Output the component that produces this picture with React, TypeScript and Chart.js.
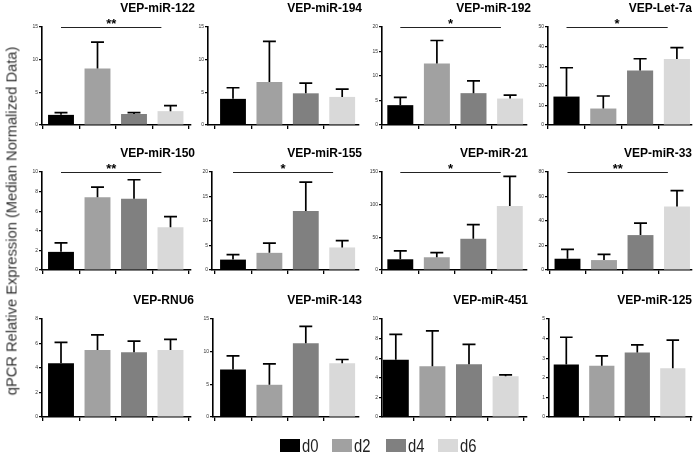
import React, { useEffect, useRef } from 'react';
import { Chart, registerables } from 'chart.js';

Chart.register(...registerables);

// ---------- data ----------
const GROUPS = ['d0', 'd2', 'd4', 'd6'];
const GROUP_COLORS = ['#000000', '#a1a1a1', '#808080', '#d9d9d9'];
const Y_LABEL = 'qPCR Relative Expression (Median Normalized Data)';

const TITLES = [
  'VEP-miR-122', 'VEP-miR-194', 'VEP-miR-192', 'VEP-Let-7a',
  'VEP-miR-150', 'VEP-miR-155', 'VEP-miR-21', 'VEP-miR-33',
  'VEP-RNU6', 'VEP-miR-143', 'VEP-miR-451', 'VEP-miR-125',
];

const mir122 = [1.55, 8.65, 1.68, 2.12];
const mir122Err = [0.35, 4.05, 0.2, 0.85];
const mir194 = [4.0, 6.6, 4.85, 4.3];
const mir194Err = [1.7, 6.2, 1.55, 1.2];
const mir192 = [4.05, 12.55, 6.5, 5.4];
const mir192Err = [1.6, 4.7, 2.5, 0.7];
const let7a = [14.5, 8.4, 27.8, 33.7];
const let7aErr = [14.7, 6.4, 6.0, 5.8];
const mir150 = [1.85, 7.43, 7.26, 4.35];
const mir150Err = [0.92, 1.03, 1.95, 1.1];
const mir155 = [2.12, 3.5, 12.05, 4.6];
const mir155Err = [1.03, 2.0, 5.9, 1.4];
const mir21 = [16.4, 19.5, 47.8, 98.1];
const mir21Err = [12.9, 7.2, 21.5, 45.2];
const mir33 = [9.2, 8.1, 28.5, 51.8];
const mir33Err = [7.6, 4.6, 9.7, 13.0];
const rnu6 = [4.39, 5.47, 5.28, 5.47];
const rnu6Err = [1.71, 1.23, 0.92, 0.87];
const mir143 = [7.27, 4.93, 11.29, 8.24];
const mir143Err = [2.08, 3.2, 2.59, 0.56];
const mir451 = [5.83, 5.19, 5.39, 4.17];
const mir451Err = [2.61, 3.59, 2.03, 0.13];
const mir125 = [2.68, 2.61, 3.29, 2.49];
const mir125Err = [1.39, 0.51, 0.39, 1.43];

const MEANS = [mir122, mir194, mir192, let7a, mir150, mir155, mir21, mir33, rnu6, mir143, mir451, mir125];
const ERRORS = [mir122Err, mir194Err, mir192Err, let7aErr, mir150Err, mir155Err, mir21Err, mir33Err, rnu6Err, mir143Err, mir451Err, mir125Err];

const Y_MAX = [15, 15, 20, 50, 10, 20, 150, 80, 8, 15, 10, 5];
const Y_STEP = [5, 5, 5, 10, 2, 5, 50, 20, 2, 5, 2, 1];
const SIGNIF = ['**', '', '*', '*', '**', '*', '*', '**', '', '', '', ''];

// ---------- layout (positions, not data) ----------
// ax: y-axis x, ae: x-axis end, c0: first bar centre, sp: bar spacing, tdx: title offset from axis end
const LAYOUT = [
  { ax: 42, ae: 191, c0: 61, sp: 36.5, tdx: 4 },
  { ax: 208, ae: 359, c0: 233, sp: 36.4, tdx: 3 },
  { ax: 382, ae: 527, c0: 400.3, sp: 36.6, tdx: 4 },
  { ax: 548, ae: 692, c0: 566.5, sp: 36.8, tdx: 0 },
  { ax: 42, ae: 191, c0: 61, sp: 36.5, tdx: 4 },
  { ax: 212, ae: 359, c0: 233, sp: 36.4, tdx: 3 },
  { ax: 382, ae: 527, c0: 400.3, sp: 36.5, tdx: 1 },
  { ax: 548, ae: 692, c0: 567.5, sp: 36.5, tdx: 0 },
  { ax: 42, ae: 191, c0: 61, sp: 36.5, tdx: 3 },
  { ax: 213, ae: 359, c0: 233, sp: 36.4, tdx: 3 },
  { ax: 382, ae: 527, c0: 395.8, sp: 36.6, tdx: 1 },
  { ax: 549, ae: 692, c0: 566.3, sp: 35.5, tdx: 0 },
];
const ROW_TOP = [27, 172, 319];
const ROW_BOTTOM = [125, 270, 417];
const YW = 24;
const PAD_R = 7;
const TOPSPACE = 27;
const XH = 8;
const FONT = '"Liberation Sans", Arial, Helvetica, sans-serif';

function Panel({ idx }: { idx: number }) {
  const ref = useRef<HTMLCanvasElement | null>(null);
  const L = LAYOUT[idx];
  const row = Math.floor(idx / 4);
  const left = L.ax - YW;
  const width = L.ae - L.ax + YW + PAD_R;
  const top = ROW_TOP[row] - TOPSPACE;
  const height = ROW_BOTTOM[row] - ROW_TOP[row] + TOPSPACE + XH;

  useEffect(() => {
    const means = MEANS[idx];
    const errs = ERRORS[idx];
    const decor = {
      id: 'decor' + idx,
      afterDatasetsDraw(chart: any) {
        const { ctx, chartArea } = chart;
        const x = chart.scales.x;
        const y = chart.scales.y;
        const meta = chart.getDatasetMeta(0);
        ctx.save();
        ctx.strokeStyle = '#000';
        ctx.lineWidth = 1.7;
        meta.data.forEach((bar: any, j: number) => {
          const yTop = y.getPixelForValue(means[j]);
          const yErr = y.getPixelForValue(means[j] + errs[j]);
          const half = bar.width * 0.25;
          ctx.beginPath();
          ctx.moveTo(bar.x, yTop);
          ctx.lineTo(bar.x, yErr);
          ctx.moveTo(bar.x - half, yErr);
          ctx.lineTo(bar.x + half, yErr);
          ctx.stroke();
        });
        const sig = SIGNIF[idx];
        if (sig) {
          const ly = y.getPixelForValue(Y_MAX[idx]);
          const x1 = x.getPixelForValue(0.0);
          const x2 = x.getPixelForValue(2.75);
          ctx.lineWidth = 1;
          ctx.strokeStyle = '#222';
          ctx.beginPath();
          ctx.moveTo(x1, ly + 0.5);
          ctx.lineTo(x2, ly + 0.5);
          ctx.stroke();
          ctx.fillStyle = '#000';
          ctx.font = 'bold 13px ' + FONT;
          ctx.textAlign = 'center';
          ctx.textBaseline = 'alphabetic';
          ctx.fillText(sig, (x1 + x2) / 2, ly + 1);
        }
        ctx.fillStyle = '#000';
        ctx.font = 'bold 12px ' + FONT;
        ctx.textAlign = 'right';
        ctx.textBaseline = 'alphabetic';
        ctx.fillText(TITLES[idx], chartArea.right + L.tdx, chartArea.top - 15);
        ctx.restore();
      },
    };

    const chart = new Chart(ref.current as HTMLCanvasElement, {
      type: 'bar',
      data: {
        labels: GROUPS,
        datasets: [
          {
            label: TITLES[idx],
            data: means.map((v, i) => ({ x: i, y: v })) as any,
            backgroundColor: GROUP_COLORS,
            borderWidth: 0,
            barPercentage: 0.71,
            categoryPercentage: 1,
          },
        ],
      },
      options: {
        responsive: false,
        maintainAspectRatio: false,
        animation: false,
        devicePixelRatio: 1,
        events: [],
        layout: { padding: { top: TOPSPACE, right: PAD_R, left: 0, bottom: 0 } },
        plugins: {
          legend: { display: false },
          tooltip: { enabled: false },
          title: { display: false },
        },
        scales: {
          x: {
            type: 'linear',
            z: 1,
            min: (L.ax - L.c0) / L.sp,
            max: (L.ae - L.c0) / L.sp,
            offset: false,
            ticks: { display: false, stepSize: 1, includeBounds: false } as any,
            afterBuildTicks: (s: any) => {
              s.ticks = s.ticks.filter((t: any) => Number.isInteger(t.value) && t.value >= 0 && t.value <= 3);
            },
            afterFit: (s: any) => {
              s.height = XH;
            },
            grid: { display: true, drawOnChartArea: false, drawTicks: true, tickLength: 4, color: '#000', lineWidth: 1.3 },
            border: { display: true, color: '#000', width: 1.6 },
          },
          y: {
            z: 1,
            min: 0,
            max: Y_MAX[idx],
            ticks: { stepSize: Y_STEP[idx], font: { size: 5, family: FONT }, color: '#333', padding: 1 },
            afterFit: (s: any) => {
              s.width = YW;
            },
            grid: { display: true, drawOnChartArea: false, drawTicks: true, tickLength: 3, color: '#000', lineWidth: 1.2 },
            border: { display: true, color: '#000', width: 1.6 },
          },
        },
      } as any,
      plugins: [decor],
    });
    return () => chart.destroy();
  }, []);

  return (
    <canvas
      ref={ref}
      width={width}
      height={height}
      style={{ position: 'absolute', left, top, width, height }}
    />
  );
}

export default function App() {
  const legendX = [280, 332, 386, 438];
  return (
    <div style={{ position: 'absolute', left: 0, top: 0, width: 700, height: 455, background: '#fff', overflow: 'hidden' }}>
      {TITLES.map((_, i) => (
        <Panel key={i} idx={i} />
      ))}
      <div
        style={{
          position: 'absolute',
          left: 12,
          top: 221,
          transform: 'translate(-50%, -50%) rotate(-90deg)',
          whiteSpace: 'nowrap',
          fontFamily: FONT,
          fontSize: 14.7,
          lineHeight: '15px',
          color: '#333',
        }}
      >
        {Y_LABEL}
      </div>
      {GROUPS.map((g, i) => (
        <React.Fragment key={g}>
          <div
            style={{
              position: 'absolute',
              left: legendX[i],
              top: 439,
              width: 20,
              height: 13,
              background: GROUP_COLORS[i],
            }}
          />
          <div
            style={{
              position: 'absolute',
              left: legendX[i] + 22,
              top: 436,
              fontFamily: FONT,
              fontSize: 19,
              lineHeight: '19px',
              color: '#222',
              transform: 'scaleX(0.78)',
              transformOrigin: 'left top',
              whiteSpace: 'nowrap',
            }}
          >
            {g}
          </div>
        </React.Fragment>
      ))}
    </div>
  );
}
